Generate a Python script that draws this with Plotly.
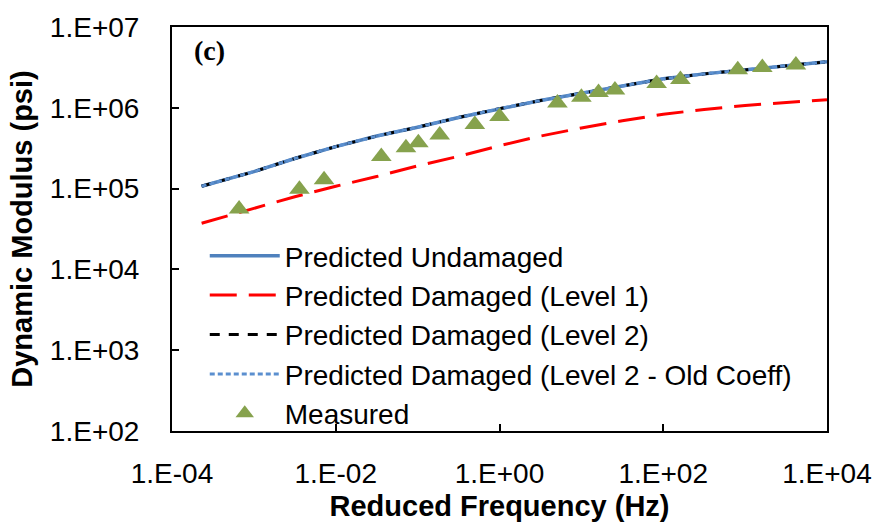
import plotly.graph_objects as go

# ---- data ----
curve_freq = [2.3e-4, 4.8e-4, 1e-3, 3.16e-3, 1e-2, 3.16e-2, 0.1, 0.316, 1.0, 3.16, 10.0,
              31.6, 100.0, 316.0, 1000.0, 3162.0, 10000.0]
undamaged = [1.07e5, 1.31e5, 1.62e5, 2.36e5, 3.31e5, 4.47e5, 5.75e5, 7.59e5, 9.77e5, 1.23e6,
             1.51e6, 1.86e6, 2.29e6, 2.63e6, 2.95e6, 3.31e6, 3.72e6]
damaged_l1 = [3.72e4, 4.6e4, 5.8e4, 7.94e4, 1.07e5, 1.41e5, 1.91e5, 2.51e5, 3.39e5, 4.47e5,
              5.62e5, 6.92e5, 8.32e5, 9.55e5, 1.07e6, 1.15e6, 1.26e6]
damaged_l2 = [1.07e5, 1.31e5, 1.62e5, 2.36e5, 3.31e5, 4.47e5, 5.75e5, 7.59e5, 9.77e5, 1.23e6,
              1.51e6, 1.86e6, 2.29e6, 2.63e6, 2.95e6, 3.31e6, 3.72e6]
damaged_l2_old = [1.07e5, 1.31e5, 1.62e5, 2.36e5, 3.31e5, 4.47e5, 5.75e5, 7.59e5, 9.77e5, 1.23e6,
                  1.51e6, 1.86e6, 2.29e6, 2.63e6, 2.95e6, 3.31e6, 3.72e6]

meas_freq = [6.6e-4, 3.6e-3, 7.2e-3, 3.6e-2, 7.2e-2, 0.102, 0.186, 0.50, 1.0, 5.1,
             10.0, 16.2, 25.7, 83.0, 162.0, 813.0, 1622.0, 4169.0]
meas_mod = [5.6e4, 9.8e4, 1.29e5, 2.5e5, 3.2e5, 3.7e5, 4.6e5, 6.2e5, 7.8e5, 1.15e6,
            1.35e6, 1.55e6, 1.66e6, 2.0e6, 2.24e6, 2.95e6, 3.16e6, 3.39e6]

x_tickvals = [1e-4, 1e-2, 1e0, 1e2, 1e4]
x_ticktext = ["1.E-04", "1.E-02", "1.E+00", "1.E+02", "1.E+04"]
y_tickvals = [1e2, 1e3, 1e4, 1e5, 1e6, 1e7]
y_ticktext = ["1.E+02", "1.E+03", "1.E+04", "1.E+05", "1.E+06", "1.E+07"]

FONT = "Liberation Sans, Arial, sans-serif"

fig = go.Figure()
fig.add_trace(go.Scatter(x=curve_freq, y=undamaged, mode="lines", name="Predicted Undamaged",
                         legendgroup="a", line=dict(color="#4F81BD", width=3.5)))
fig.add_trace(go.Scatter(x=curve_freq, y=damaged_l1, mode="lines", name="Predicted Damaged (Level 1)",
                         legendgroup="b", line=dict(color="#FF0000", width=3, dash="27px,12px")))
fig.add_trace(go.Scatter(x=curve_freq, y=damaged_l2, mode="lines", name="Predicted Damaged (Level 2)",
                         legendgroup="c", line=dict(color="#000000", width=3, dash="10px,9px")))
fig.add_trace(go.Scatter(x=curve_freq, y=damaged_l2_old, mode="lines",
                         name="Predicted Damaged (Level 2 - Old Coeff)",
                         legendgroup="d", line=dict(color="#5B8FCF", width=3, dash="5px,3px")))
fig.add_trace(go.Scatter(x=meas_freq, y=meas_mod, mode="markers", name="Measured",
                         legendgroup="e",
                         marker=dict(symbol="triangle-up", size=18, color="#86A24D")))

fig.update_layout(
    width=884, height=529,
    margin=dict(l=172, r=51, t=21, b=94),
    paper_bgcolor="white", plot_bgcolor="white",
    font=dict(family=FONT, size=28, color="#000000"),
    showlegend=True,
    legend=dict(x=0.05, y=0.495, xanchor="left", yanchor="top",
                bgcolor="rgba(0,0,0,0)", font=dict(size=28, family=FONT),
                itemwidth=70, tracegroupgap=0, traceorder="normal"),
    annotations=[dict(text="<b>(c)</b>", x=0.03, y=0.985, xref="paper", yref="paper",
                      xanchor="left", yanchor="top", showarrow=False,
                      font=dict(family="Liberation Serif, Times New Roman, serif", size=28))],
)
fig.update_xaxes(type="log", range=[-4, 4], tickvals=x_tickvals, ticktext=x_ticktext,
                 showline=True, linecolor="black", linewidth=2, mirror=True,
                 ticks="inside", ticklen=7, tickwidth=1.5, tickcolor="black",
                 showgrid=False, zeroline=False, ticklabelstandoff=16,
                 title=dict(text="<b>Reduced Frequency (Hz)</b>", font=dict(size=29), standoff=8))
fig.update_yaxes(type="log", range=[2, 7], tickvals=y_tickvals, ticktext=y_ticktext,
                 showline=True, linecolor="black", linewidth=2, mirror=True,
                 ticks="inside", ticklen=7, tickwidth=1.5, tickcolor="black",
                 showgrid=False, zeroline=False, ticklabelstandoff=25,
                 title=dict(text="<b>Dynamic Modulus (psi)</b>", font=dict(size=29), standoff=9))

fig.write_html("out.html")
